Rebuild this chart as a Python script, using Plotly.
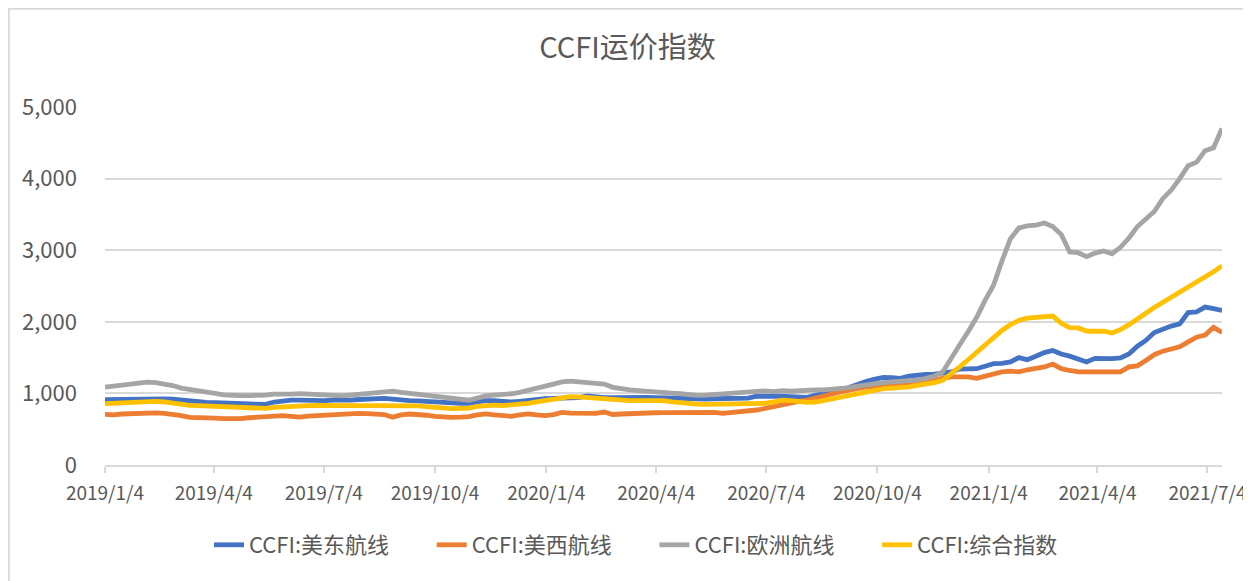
import pandas as pd
import plotly.graph_objects as go

dates = pd.date_range("2019-01-04", periods=133, freq="7D")

us_east = [912,915,918,920,925,926,925,922,918,905,
           895,885,875,870,868,870,868,862,855,846,
           880,900,905,905,900,898,900,905,900,905,
           915,925,930,930,920,905,900,895,885,878,
           870,865,862,860,880,900,898,890,880,890,
           905,915,926,930,930,930,940,965,945,940,
           940,945,950,950,945,940,935,930,926,920,
           920,922,925,926,926,926,935,960,965,970,
           960,955,945,945,975,995,1010,1040,1085,1130,
           1170,1200,1225,1220,1210,1240,1260,1265,1270,1285,
           1300,1340,1350,1345,1380,1415,1420,1440,1500,1470,
           1520,1570,1600,1550,1520,1480,1440,1490,1485,1485,
           1495,1550,1660,1740,1850,1900,1940,1970,2130,2140,
           2205,2185,2160]

us_west = [706,700,712,720,728,730,728,720,710,690,
           665,665,660,655,648,645,648,660,668,672,
           678,690,680,670,682,690,698,700,715,728,
           722,718,712,705,668,700,712,710,695,680,
           668,665,668,675,700,715,700,690,680,700,
           715,700,690,705,735,725,720,720,722,740,
           705,712,720,725,728,730,732,735,735,735,
           735,735,735,720,728,740,752,768,790,815,
           850,870,890,905,930,960,995,1025,1050,1070,
           1090,1100,1112,1120,1125,1130,1136,1150,1180,1215,
           1230,1228,1230,1210,1240,1265,1300,1310,1300,1330,
           1350,1370,1410,1346,1320,1300,1300,1300,1300,1285,
           1300,1370,1385,1460,1540,1590,1620,1650,1720,1785,
           1815,1925,1850]

europe = [1088,1105,1120,1140,1155,1158,1150,1135,1110,1075,
          1060,1040,1025,1000,980,970,968,970,970,975,
          990,985,990,998,990,985,990,975,965,975,
          985,995,1000,1020,1032,1015,1000,990,975,960,
          945,930,915,905,935,965,975,980,995,1015,
          1040,1065,1090,1130,1160,1170,1160,1150,1140,1130,
          1085,1060,1050,1040,1035,1030,1015,1005,995,980,
          972,975,985,990,1000,1010,1020,1030,1035,1025,
          1040,1030,1040,1045,1050,1050,1055,1060,1080,1100,
          1120,1140,1150,1160,1165,1170,1185,1210,1240,1300,
          1500,1680,1860,2060,2300,2510,2850,3160,3310,3340,
          3350,3380,3330,3220,2975,2965,2910,2960,2990,2950,
          3040,3170,3330,3440,3540,3720,3840,4000,4180,4230,
          4390,4430,4700]

composite = [856,862,870,880,890,893,890,880,865,840,
             832,830,825,815,810,808,808,805,800,790,
             805,815,818,822,828,832,832,830,828,830,
             832,834,832,835,840,832,830,825,815,800,
             790,786,790,795,820,830,835,830,835,845,
             860,880,900,920,945,955,950,940,935,925,
             915,905,900,900,902,902,900,880,865,855,
             850,846,846,846,846,850,852,856,860,880,
             905,900,885,875,880,905,925,950,975,1000,
             1030,1050,1066,1075,1080,1090,1112,1125,1150,1182,
             1270,1370,1470,1570,1680,1785,1880,1960,2020,2050,
             2060,2075,2080,1980,1920,1915,1870,1868,1868,1845,
             1890,1960,2050,2120,2200,2270,2340,2410,2490,2560,
             2630,2700,2780]

series_names = ["CCFI:美东航线", "CCFI:美西航线", "CCFI:欧洲航线", "CCFI:综合指数"]
series_colors = ["#4472C4", "#ED7D31", "#A5A5A5", "#FFC000"]
series_values = [us_east, us_west, europe, composite]

tick_dates = ["2019-01-04", "2019-04-04", "2019-07-04", "2019-10-04",
              "2020-01-04", "2020-04-04", "2020-07-04", "2020-10-04",
              "2021-01-04", "2021-04-04", "2021-07-04"]
tick_labels = ["2019/1/4", "2019/4/4", "2019/7/4", "2019/10/4",
               "2020/1/4", "2020/4/4", "2020/7/4", "2020/10/4",
               "2021/1/4", "2021/4/4", "2021/7/4"]

FONT = "Noto Sans CJK SC"
TXT = "#595959"

# The page body adds an 8px offset, so the figure is 8px smaller on each axis.
W, H = 1243, 573
L, R, T, B = 97, 29, 99, 116
PW, PH = W - L - R, H - T - B


def px(fx):
    return (fx - L) / PW


def py(fy):
    return (H - B - fy) / PH


fig = go.Figure()
for name, color, vals in zip(series_names, series_colors, series_values):
    fig.add_trace(go.Scatter(x=dates, y=vals, mode="lines", name=name,
                             line=dict(color=color, width=4.8)))

fig.update_layout(
    width=W, height=H,
    margin=dict(l=L, r=R, t=T, b=B, autoexpand=False),
    paper_bgcolor="white", plot_bgcolor="white",
    font=dict(family=FONT, color=TXT),
    title=dict(text="CCFI运价指数", x=619.5 / W, xanchor="center",
               y=1 - 40 / H, yanchor="middle", yref="container",
               font=dict(size=29, color=TXT, family=FONT)),
    showlegend=True,
    legend=dict(orientation="h", x=px(201), xanchor="left",
                y=py(537), yanchor="middle",
                font=dict(size=22, color=TXT, family=FONT),
                entrywidth=177.7, entrywidthmode="pixels",
                bgcolor="rgba(0,0,0,0)"),
    xaxis=dict(type="date",
               range=[dates[0], dates[-1]],
               tickvals=tick_dates, ticktext=tick_labels,
               showgrid=False, showline=True, linecolor="#D9D9D9", linewidth=2,
               ticks="outside", ticklen=6, tickwidth=1.5, tickcolor="#D9D9D9",
               ticklabelstandoff=4, automargin=False,
               tickfont=dict(size=19, color=TXT, family=FONT),
               zeroline=False),
    yaxis=dict(range=[0, 5000], tickvals=[0, 1000, 2000, 3000, 4000, 5000],
               tickformat=",d", showgrid=True, gridcolor="#D9D9D9", gridwidth=1.5,
               zeroline=False, showline=False, automargin=False,
               ticklabelstandoff=27,
               tickfont=dict(size=22, color=TXT, family=FONT)),
    shapes=[dict(type="rect", xref="paper", yref="paper",
                 x0=px(0.5), x1=px(1239),
                 y0=py(600), y1=py(0.5),
                 line=dict(color="#D9D9D9", width=2.5), layer="below")],
)

fig.write_html("out.html")
